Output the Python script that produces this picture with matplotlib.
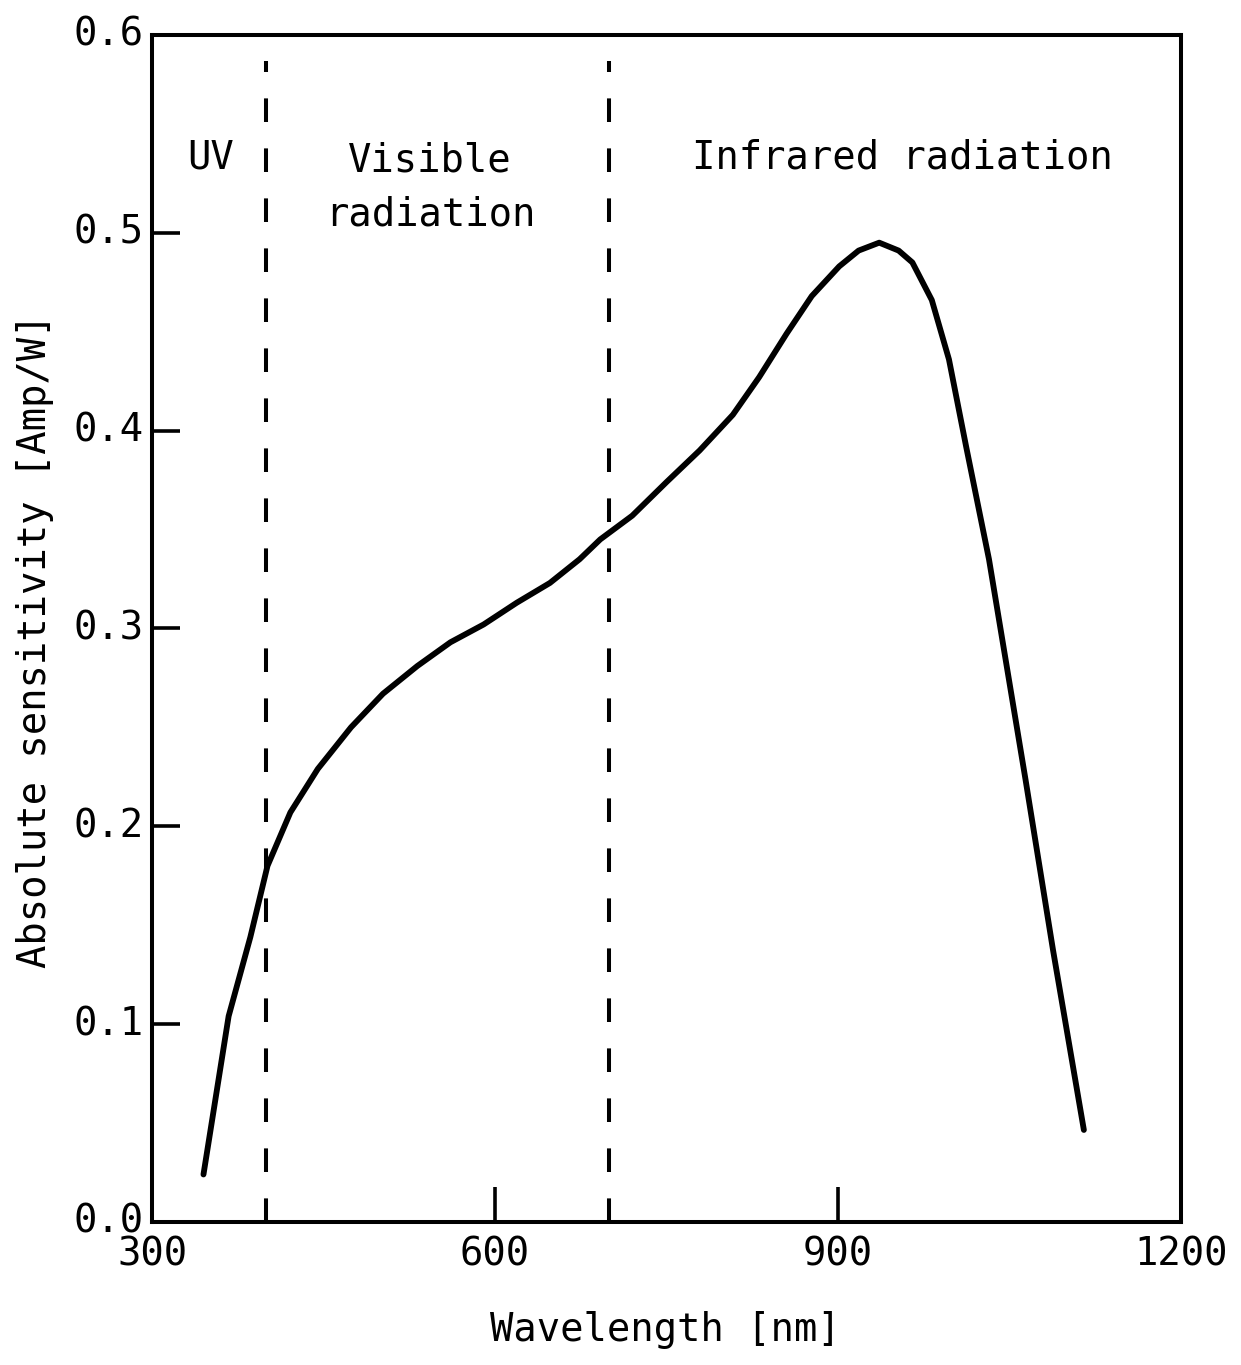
import matplotlib
matplotlib.use("Agg")
from matplotlib import pyplot as plt

plt.rcParams['font.family'] = ['DejaVu Sans Mono']
plt.rcParams['lines.scale_dashes'] = False

# Sensitivity curve
wavelength = [345, 367, 386, 401, 421, 445, 474, 502, 532, 561, 590,
              619, 648, 674, 692, 720, 750, 779, 808, 831, 855, 877, 901,
              918, 936, 953, 965, 982, 997, 1012, 1032, 1064, 1088, 1115]
sensitivity = [0.024, 0.104, 0.144, 0.180, 0.207, 0.229, 0.250, 0.267,
               0.281, 0.293, 0.302, 0.313, 0.323, 0.335, 0.345, 0.357, 0.374,
               0.390, 0.408, 0.427, 0.449, 0.468, 0.483, 0.491, 0.495, 0.491,
               0.485, 0.466, 0.436, 0.392, 0.335, 0.2235, 0.1375, 0.0465]

boundaries = [400, 700]
region_labels = ["UV", "Visible\nradiation", "Infrared radiation"]
region_x = [351, 543, 956]

xticks = [600, 900]
xtick_labels = ["300", "600", "900", "1200"]
yticks = [0.1, 0.2, 0.3, 0.4, 0.5]
ytick_labels = ["0.0", "0.1", "0.2", "0.3", "0.4", "0.5", "0.6"]

fig = plt.figure(figsize=(12.41, 13.65), dpi=100)
ax = fig.add_axes([0.1225, 0.1048, 0.8292, 0.8696])

ax.plot(wavelength, sensitivity, color='black', lw=4.2,
        solid_capstyle='round', solid_joinstyle='round')

for b in boundaries:
    ax.vlines(b, 0, 0.587, colors='black', lw=2.9,
              linestyles=(0, (17, 19)))

ax.set_xlim(300, 1200)
ax.set_ylim(0, 0.6)

for s in ax.spines.values():
    s.set_linewidth(2.9)

ax.set_xticks(xticks)
ax.set_xticklabels([])
ax.set_yticks(yticks)
ax.set_yticklabels([])
ax.tick_params(axis='x', direction='in', length=25, width=2.6)
ax.tick_params(axis='y', direction='in', length=20, width=2.6)

fs = 28
# tick labels as text so the end labels (300/1200, 0.0/0.6) sit like the original
for i, lab in enumerate(xtick_labels):
    ax.text(300 + 300 * i, -0.007, lab, ha='center', va='top', fontsize=fs)
for i, lab in enumerate(ytick_labels):
    ax.text(293, 0.1 * i, lab, ha='right', va='center', fontsize=fs)

ax.text(region_x[0], 0.538, region_labels[0], ha='center', va='center', fontsize=fs)
ax.text(region_x[1], 0.523, region_labels[1], ha='center', va='center',
        fontsize=fs, linespacing=1.55)
ax.text(region_x[2], 0.538, region_labels[2], ha='center', va='center', fontsize=fs)

ax.text(-0.114, 0.49, "Absolute sensitivity [Amp/W]", transform=ax.transAxes,
        rotation=90, ha='center', va='center', fontsize=fs)
ax.text(0.4985, -0.091, "Wavelength [nm]", transform=ax.transAxes,
        ha='center', va='center', fontsize=fs)

fig.savefig("out.png", dpi=100)
